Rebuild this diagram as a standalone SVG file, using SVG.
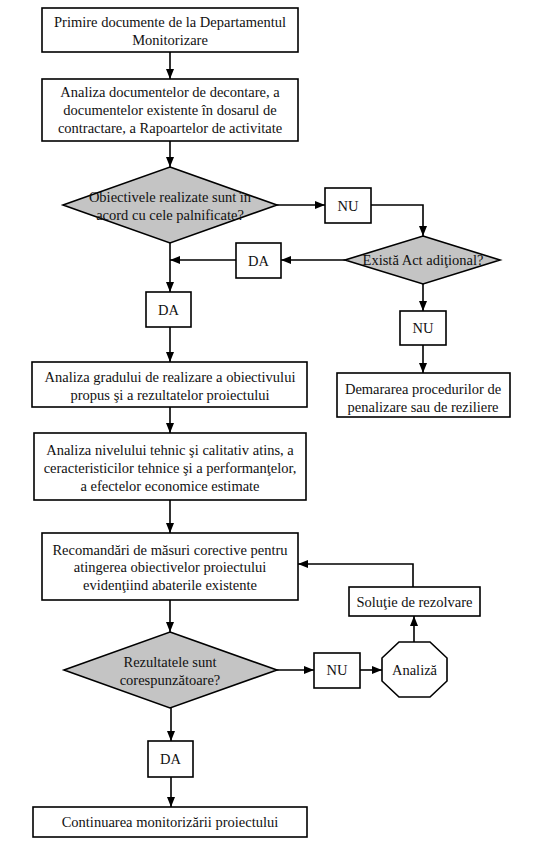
<svg xmlns="http://www.w3.org/2000/svg" width="554" height="849" viewBox="0 0 554 849">
<defs>
<style>
.b{fill:#fff;stroke:#000;stroke-width:1.6}
.d{fill:#c4c4c4;stroke:#000;stroke-width:1.6}
.c{fill:none;stroke:#000;stroke-width:1.6}
text{font-family:'Liberation Serif','Tinos','Noto Serif','DejaVu Serif',serif;font-size:14.5px;fill:#111;text-anchor:middle}
</style>
<marker id="a" markerWidth="10" markerHeight="8" refX="10" refY="4" orient="auto" markerUnits="userSpaceOnUse">
<path d="M0,0 L10,4 L0,8 Z" fill="#000"/>
</marker>
</defs>
<rect width="554" height="849" fill="#fff"/>
<g id="connectors">
<path class="c" d="M170,52 V79" marker-end="url(#a)"/>
<path class="c" d="M170,141 V167" marker-end="url(#a)"/>
<path class="c" d="M277,205 H325" marker-end="url(#a)"/>
<path class="c" d="M371,205 H423 V236" marker-end="url(#a)"/>
<path class="c" d="M345,260 H281" marker-end="url(#a)"/>
<path class="c" d="M236,260 H170" marker-end="url(#a)"/>
<path class="c" d="M170,243 V292" marker-end="url(#a)"/>
<path class="c" d="M170,327 V362" marker-end="url(#a)"/>
<path class="c" d="M423,284 V311" marker-end="url(#a)"/>
<path class="c" d="M423,345 V373" marker-end="url(#a)"/>
<path class="c" d="M170,407 V433" marker-end="url(#a)"/>
<path class="c" d="M170,500 V533" marker-end="url(#a)"/>
<path class="c" d="M413,587 V564 H298" marker-end="url(#a)"/>
<path class="c" d="M170,600 V632" marker-end="url(#a)"/>
<path class="c" d="M277,670 H314" marker-end="url(#a)"/>
<path class="c" d="M360,670 H382" marker-end="url(#a)"/>
<path class="c" d="M414,642 V616" marker-end="url(#a)"/>
<path class="c" d="M171,708 V741" marker-end="url(#a)"/>
<path class="c" d="M171,777 V807" marker-end="url(#a)"/>
</g>
<g id="n1"><rect class="b" x="42" y="8" width="256" height="44"/><text x="170" y="27">Primire documente de la Departamentul</text><text x="170" y="45">Monitorizare</text></g>
<g id="n2"><rect class="b" x="42" y="79" width="256" height="62"/><text x="170" y="97">Analiza documentelor de decontare, a</text><text x="170" y="115">documentelor existente în dosarul de</text><text x="170" y="133">contractare, a Rapoartelor de activitate</text></g>
<g id="d1"><polygon class="d" points="170,167 277,205 170,243 63,205"/><text x="170" y="202">Obiectivele realizate sunt în</text><text x="170" y="220">acord cu cele palnificate?</text></g>
<g id="nu1"><rect class="b" x="325" y="188" width="46" height="35"/><text x="348" y="211">NU</text></g>
<g id="d2"><polygon class="d" points="423,236 500,260 423,284 345,260"/><text x="423" y="265">Există Act adiţional?</text></g>
<g id="da1"><rect class="b" x="236" y="243" width="45" height="35"/><text x="258.5" y="266">DA</text></g>
<g id="da2"><rect class="b" x="146" y="292" width="45" height="35"/><text x="168.5" y="315">DA</text></g>
<g id="n3"><rect class="b" x="32" y="362" width="275" height="45"/><text x="170" y="382">Analiza gradului de realizare a obiectivului</text><text x="170" y="400">propus şi a rezultatelor proiectului</text></g>
<g id="nu2"><rect class="b" x="400" y="311" width="46" height="34"/><text x="423" y="333">NU</text></g>
<g id="n4"><rect class="b" x="337" y="373" width="173" height="44"/><text x="423" y="394">Demararea procedurilor de</text><text x="423" y="412">penalizare sau de reziliere</text></g>
<g id="n5"><rect class="b" x="34" y="433" width="272" height="67"/><text x="170" y="455">Analiza nivelului tehnic şi calitativ atins, a</text><text x="170" y="473">ceracteristicilor tehnice şi a performanţelor,</text><text x="170" y="491">a efectelor economice estimate</text></g>
<g id="n6"><rect class="b" x="42" y="533" width="256" height="67"/><text x="170" y="555">Recomandări de măsuri corective pentru</text><text x="170" y="572">atingerea obiectivelor proiectului</text><text x="170" y="590">evidenţiind abaterile existente</text></g>
<g id="n7"><rect class="b" x="349" y="587" width="131" height="29"/><text x="414.5" y="607">Soluţie de rezolvare</text></g>
<g id="d3"><polygon class="d" points="170,632 277,670 170,708 64,670"/><text x="170" y="667">Rezultatele sunt</text><text x="170" y="685">corespunzătoare?</text></g>
<g id="nu3"><rect class="b" x="314" y="653" width="46" height="35"/><text x="337" y="675">NU</text></g>
<g id="n8"><polygon class="b" points="399,642 430,642 447,658 447,681 430,697 399,697 382,681 382,658"/><text x="414.5" y="675">Analiză</text></g>
<g id="da3"><rect class="b" x="148" y="741" width="45" height="36"/><text x="170.5" y="764">DA</text></g>
<g id="n9"><rect class="b" x="33" y="807" width="274" height="30"/><text x="170" y="827">Continuarea monitorizării proiectului</text></g>
</svg>
